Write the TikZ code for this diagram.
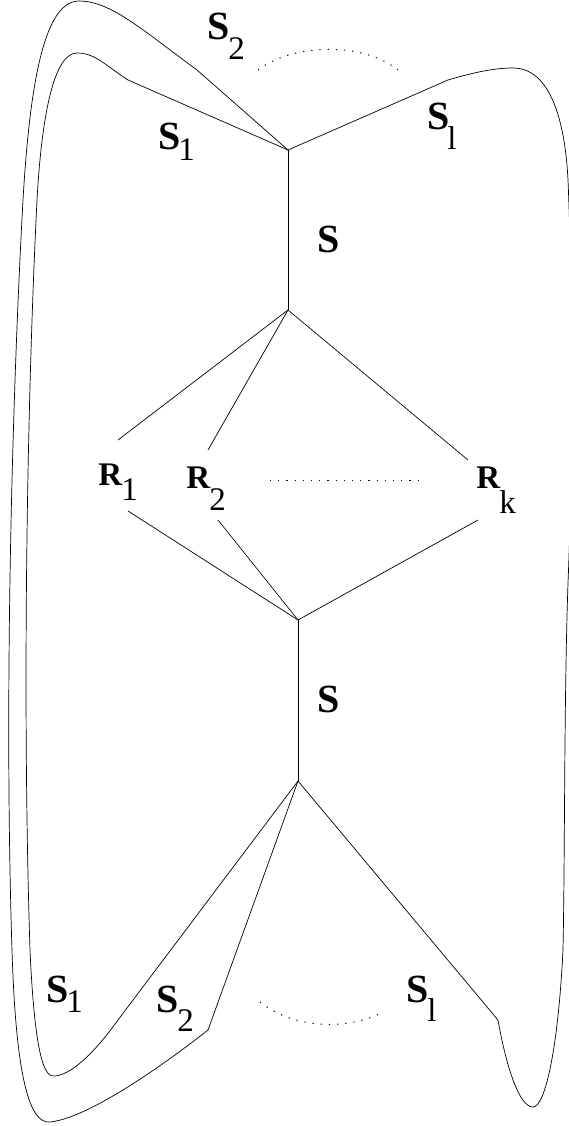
\documentclass[tikz,border=0pt]{standalone}
\usepackage{fontspec}
\setmainfont{Liberation Serif}
\newcommand{\subfnt}{\fontsize{33}{35}\selectfont\mdseries}
\newcommand{\lab}[4]{\makebox[#3pt][l]{\bfseries #1}\raisebox{-#4pt}{\subfnt #2}}

\begin{document}
\begin{tikzpicture}[x=1pt,y=-1pt,line width=0.7pt,
  bigS/.style={font=\fontsize{40}{44}\selectfont\bfseries},
  bigR/.style={font=\fontsize{33}{36}\selectfont\bfseries},
  dots/.style={line width=1pt,dash pattern=on 1.2pt off 7pt}]
\tikzstyle{every node}+=[inner sep=0pt,anchor=base west]
\useasboundingbox (0,0) rectangle (569,1126);
\coordinate (A) at (288,150);
\coordinate (B) at (288,310);
\coordinate (C) at (298,620);
\coordinate (D) at (298,781);
\coordinate (r1a) at (118,440);
\coordinate (r2a) at (208,450);
\coordinate (rka) at (468,460);
\coordinate (r1b) at (128,511);
\coordinate (r2b) at (218,520);
\coordinate (rkb) at (478,520);
\coordinate (s1t) at (128,80);
\coordinate (s2t) at (197,70);
\coordinate (slt) at (448,80);
\coordinate (s1b) at (118,1020);
\coordinate (s2b) at (208,1030);
\coordinate (slb) at (498,1020);
\coordinate (dl) at (270,480);
\coordinate (dr) at (425,480);
\draw [black] (A) -- (B);
\draw [black] (C) -- (D);
\draw [black] (B) -- (r1a);
\draw [black] (B) -- (r2a);
\draw [black] (B) -- (rka);
\draw [black] (r1b) -- (C);
\draw [black] (r2b) -- (C);
\draw [black] (rkb) -- (C);
\draw [black] (A) -- (s1t) .. controls (105,65) and (95,53) .. (77,53)
  .. controls (55,53) and (42,110) .. (37,200)
  .. controls (27,400) and (22,700) .. (30,950)
  .. controls (35,1060) and (45,1078) .. (55,1076)
  .. controls (75,1074) and (100,1045) .. (s1b) -- (D);
\draw [black] (A) -- (s2t) .. controls (140,28) and (110,1) .. (79,1)
  .. controls (45,1) and (30,80) .. (23,200)
  .. controls (12,400) and (4,700) .. (12,950)
  .. controls (16,1080) and (30,1124) .. (50,1122)
  .. controls (90,1118) and (170,1060) .. (s2b) -- (D);
\draw [black] (A) -- (slt) .. controls (475,72) and (495,68) .. (513,68)
  .. controls (550,68) and (565,120) .. (568,180)
  .. controls (573,300) and (573,460) .. (568,583)
  .. controls (564,700) and (565,850) .. (563,950)
  .. controls (558,1050) and (545,1107) .. (533,1107)
  .. controls (518,1107) and (505,1060) .. (slb) -- (D);
\draw [black,dots] (258,70) .. controls (290,45) and (360,40) .. (398,70);
\draw [black,dots] (260,1002) .. controls (295,1030) and (350,1030) .. (383,1012);
\draw [black,dots] (dl) -- (dr);
\node [bigS] (S2top) at (207,40) {\lab{S}{2}{21}{20}};
\node [bigS] (S1top) at (158,150) {\lab{S}{1}{20}{10}};
\node [bigS] (Sltop) at (427,130) {\lab{S}{l}{20}{20}};
\node [bigS] (Supper) at (317,252) {S};
\node [bigS] (Slower) at (317,712) {S};
\node [bigR] (R1) at (98,485) {\lab{R}{1}{23}{15}};
\node [bigR] (R2) at (186,488) {\lab{R}{2}{23}{22}};
\node [bigR] (Rk) at (476,488) {\lab{R}{k}{23}{25}};
\node [bigS] (S1bot) at (46,1002) {\lab{S}{1}{20}{10}};
\node [bigS] (S2bot) at (156,1012) {\lab{S}{2}{21}{19}};
\node [bigS] (Slbot) at (406,1002) {\lab{S}{l}{21}{19}};
\end{tikzpicture}
\end{document}
